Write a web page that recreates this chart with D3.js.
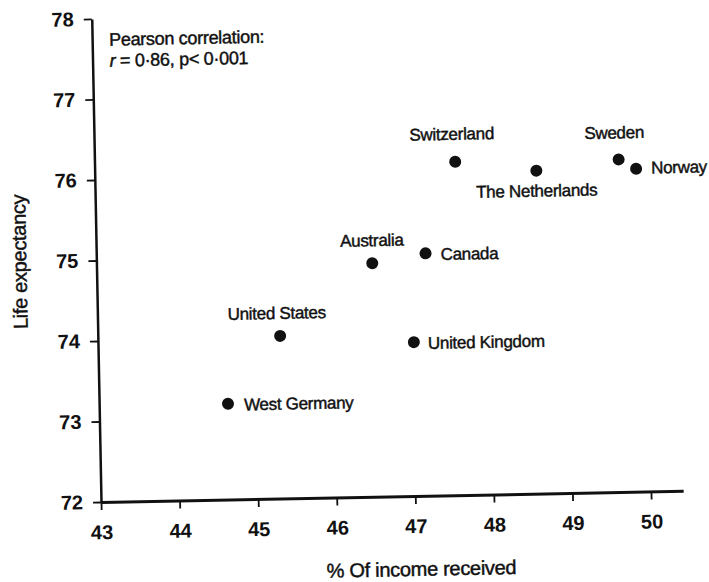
<!DOCTYPE html>
<html>
<head>
<meta charset="utf-8">
<script src="https://cdn.jsdelivr.net/npm/d3@7/dist/d3.min.js"></script>
<style>
  html, body { margin: 0; padding: 0; background: #fff; }
  svg { display: block; }
  text { font-family: "Liberation Sans", Arial, sans-serif; fill: #111; }
  .heavy { stroke: #111; stroke-width: 0.45px; letter-spacing: -0.3px; }
</style>
</head>
<body>
<svg id="chart" width="709" height="582"></svg>
<script>
// ---- data ----
const countries = ["West Germany", "United States", "Australia", "Canada", "United Kingdom",
                   "Switzerland", "The Netherlands", "Sweden", "Norway"];
const incomeShare = [44.64, 45.32, 46.51, 47.19, 47.02, 47.59, 48.62, 49.67, 49.89];
const lifeExpectancy = [73.19, 74.02, 74.90, 75.01, 73.91, 76.14, 76.01, 76.13, 76.01];
const xTickValues = [43, 44, 45, 46, 47, 48, 49, 50];
const yTickValues = [72, 73, 74, 75, 76, 77, 78];
const xTitle = "% Of income received";
const yTitle = "Life expectancy";
const noteLine1 = "Pearson correlation:";
const noteLine2 = ["r", " = 0·86, p< 0·001"];

// ---- label placement (layout only) ----
const labelLayout = {
  "West Germany":    { anchor: "start",  dx: 16, dy: 7 },
  "United States":   { anchor: "middle", dx: -3, dy: -17 },
  "Australia":       { anchor: "middle", dx: 0,  dy: -17 },
  "Canada":          { anchor: "start",  dx: 15, dy: 7 },
  "United Kingdom":  { anchor: "start",  dx: 14, dy: 7 },
  "Switzerland":     { anchor: "middle", dx: -3, dy: -22 },
  "The Netherlands": { anchor: "middle", dx: 0,  dy: 26 },
  "Sweden":          { anchor: "middle", dx: -4, dy: -21 },
  "Norway":          { anchor: "start",  dx: 15, dy: 5 }
};

const points = countries.map((c, i) => ({ name: c, x: incomeShare[i], y: lifeExpectancy[i] }));

const svg = d3.select("#chart");
const ox = 101, oy = 502;           // plot origin (43, 72)
// the scanned original is tilted slightly; reproduce it
const g = svg.append("g").attr("transform", `rotate(-1.1, ${ox}, ${oy})`);

const x = d3.scaleLinear().domain([43, 50.41]).range([ox, ox + 7.41 * 78.58]);
const y = d3.scaleLinear().domain([72, 78]).range([oy, oy - 6 * 80.52]);

// x axis
const xAxis = g.append("g")
  .attr("transform", `translate(0, ${oy})`)
  .call(d3.axisBottom(x).tickValues(xTickValues).tickSize(8).tickSizeOuter(0).tickPadding(15)
        .tickFormat(d3.format("d")));
xAxis.select(".domain").attr("stroke", "#111").attr("stroke-width", 3);
xAxis.selectAll(".tick line").attr("stroke", "#111").attr("stroke-width", 1.8);
xAxis.selectAll(".tick text").style("font-size", "20px").style("font-weight", "bold")
  .style("font-family", "\"Liberation Sans\", Arial, sans-serif").attr("fill", "#111");

// y axis
const yAxis = g.append("g")
  .attr("transform", `translate(${ox}, 0)`)
  .call(d3.axisLeft(y).tickValues(yTickValues).tickSize(8).tickSizeOuter(0).tickPadding(10)
        .tickFormat(d3.format("d")));
yAxis.select(".domain").attr("stroke", "#111").attr("stroke-width", 2.5);
yAxis.selectAll(".tick line").attr("stroke", "#111").attr("stroke-width", 1.8);
yAxis.selectAll(".tick text").style("font-size", "20px").style("font-weight", "bold")
  .style("font-family", "\"Liberation Sans\", Arial, sans-serif").attr("fill", "#111");

// axis titles
g.append("text")
  .attr("class", "heavy")
  .attr("x", (x(43) + x(50.41)) / 2 + 28)
  .attr("y", oy + 80)
  .attr("text-anchor", "middle")
  .style("font-size", "20px")
  .text(xTitle);

g.append("text")
  .attr("class", "heavy")
  .attr("transform", `translate(${ox - 70}, ${(y(72) + y(78)) / 2})rotate(-90)`)
  .attr("text-anchor", "middle")
  .style("font-size", "20px")
  .text(yTitle);

// annotation
const note = g.append("g").attr("transform", `translate(${ox + 17}, ${y(78)})`);
note.append("text").attr("class", "heavy").attr("x", 0).attr("y", 27)
  .style("font-size", "18px").text(noteLine1);
const n2 = note.append("text").attr("class", "heavy").attr("x", 0).attr("y", 48)
  .style("font-size", "18px");
n2.append("tspan").style("font-style", "italic").text(noteLine2[0]);
n2.append("tspan").text(noteLine2[1]);

// points
g.selectAll("circle.pt")
  .data(points)
  .join("circle")
  .attr("class", "pt")
  .attr("cx", d => x(d.x))
  .attr("cy", d => y(d.y))
  .attr("r", 6)
  .attr("fill", "#111");

// point labels
g.selectAll("text.lbl")
  .data(points)
  .join("text")
  .attr("class", "lbl heavy")
  .attr("x", d => x(d.x) + labelLayout[d.name].dx)
  .attr("y", d => y(d.y) + labelLayout[d.name].dy)
  .attr("text-anchor", d => labelLayout[d.name].anchor)
  .style("font-size", "17px")
  .text(d => d.name);
</script>
</body>
</html>
